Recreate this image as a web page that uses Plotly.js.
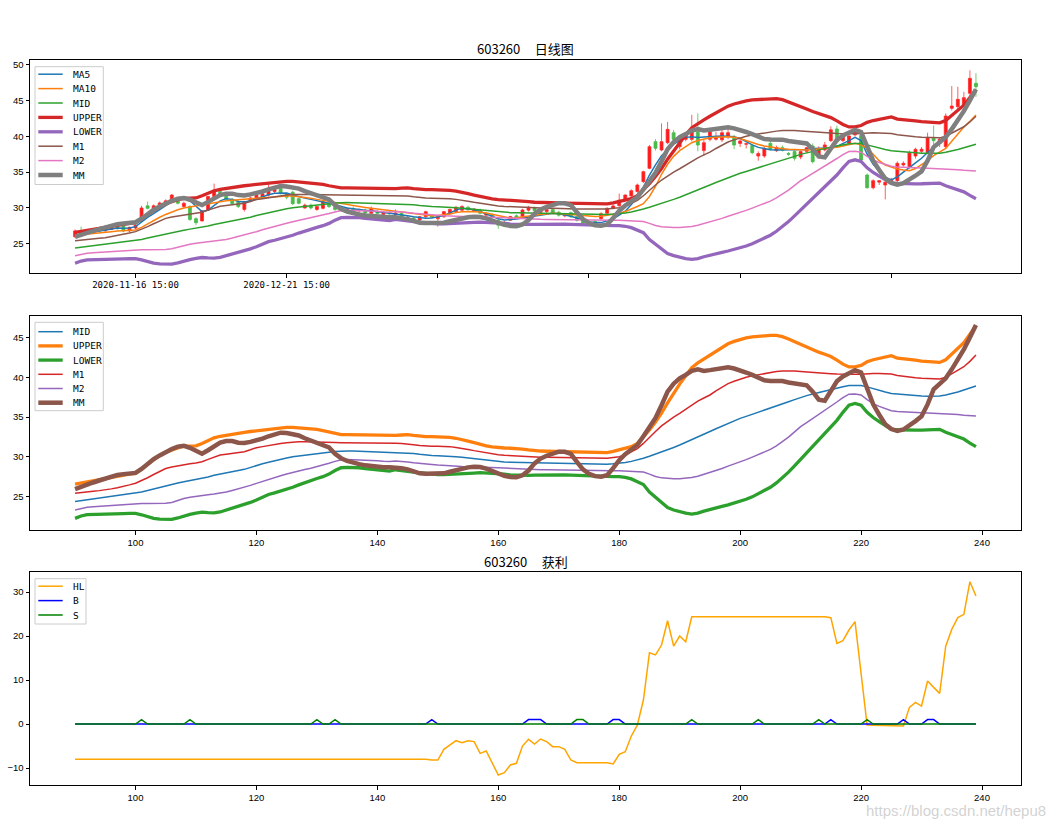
<!DOCTYPE html>
<html>
<head>
<meta charset="utf-8">
<script src="https://cdn.plot.ly/plotly-3.0.1.min.js"></script>
<style>html,body{margin:0;padding:0;background:#fff;}</style>
</head>
<body>
<div id="chart" style="width:1057px;height:825px;"></div>
<script>
// ---------- data (index 90 .. 239) ----------
const idx = [];
for (let i = 90; i <= 239; i++) idx.push(i);

const openP = [
26.0,26.8,26.4,26.5,27.0,26.8,27.0,27.4,27.6,26.8,
27.2,28.2,30.3,30.0,30.3,30.5,31.1,31.1,30.2,30.2,
28.5,28.2,29.7,31.6,32.3,31.7,31.2,30.9,29.8,31.0,
31.3,31.5,31.8,32.3,32.7,31.9,32.2,31.3,30.0,30.4,
29.8,29.95,30.6,30.1,29.9,29.6,29.9,29.6,29.7,29.25,
29.5,29.1,29.4,29.1,29.25,28.4,28.6,28.32,28.79,28.9,
28.5,28.79,29.2,29.48,29.7,30.1,29.6,29.7,29.0,29.1,
28.3,27.6,28.3,28.9,28.79,29.7,30.0,29.4,29.5,29.8,
29.4,28.9,29.35,28.8,28.5,27.7,28.1,28.5,29.25,29.95,
30.3,31.11,31.67,32.3,33.67,35.53,39.25,38.09,39.11,40.5,
38.55,39.57,39.57,40.64,38.0,39.57,39.6,39.5,40.0,39.72,
39.0,38.9,38.69,37.25,37.25,39.02,38.0,38.4,37.6,37.86,
37.1,37.9,38.65,37.2,38.1,39.39,41.02,39.4,39.02,40.2,
40.1,34.6,32.83,33.6,33.2,33.8,33.81,36.0,35.76,37.25,
37.9,37.72,39.71,39.0,38.55,43.9,44.13,44.36,45.99,47.39];
const highP = [
27.0,27.4,26.9,27.1,27.2,27.3,27.5,27.6,27.8,27.4,
27.8,30.3,30.9,30.5,30.9,31.2,31.95,31.5,30.9,30.4,
28.7,29.7,31.7,33.4,32.6,31.9,31.4,31.1,31.0,31.6,
31.9,32.2,33.3,32.9,32.9,32.1,32.4,31.4,30.6,30.6,
30.3,31.0,30.8,30.3,30.1,30.1,30.2,29.9,29.9,30.2,
29.7,29.5,29.6,29.8,29.4,28.9,28.8,28.9,29.6,29.1,
28.9,29.6,29.9,30.3,30.4,30.3,30.0,29.9,29.4,29.2,
28.5,28.2,28.9,29.1,29.9,30.3,30.2,29.9,30.0,30.0,
29.6,29.3,29.5,29.0,28.7,28.1,28.3,29.4,30.1,30.5,
32.0,31.9,32.6,33.4,35.2,38.8,39.6,41.8,42.0,40.9,
40.0,40.6,43.0,43.2,39.5,41.2,40.6,40.9,41.0,40.2,
39.6,39.1,38.9,37.9,38.6,39.4,38.7,38.7,37.8,38.1,
38.0,38.5,39.0,38.6,39.2,41.4,41.5,40.3,40.4,41.0,
40.3,34.8,34.0,33.9,33.7,34.2,36.5,36.5,38.0,38.4,
38.5,40.5,41.5,39.9,43.2,47.0,46.9,46.2,49.2,48.8];
const lowP = [
25.8,26.2,26.3,26.4,26.7,26.7,26.9,27.0,26.6,26.6,
27.0,28.0,29.8,29.8,30.1,30.4,31.0,30.5,30.0,28.2,
27.6,28.1,29.6,31.5,31.6,31.0,30.4,30.0,29.5,30.8,
31.1,31.3,31.6,32.1,31.9,31.2,30.4,30.5,29.9,29.8,
29.6,29.8,30.0,29.6,29.5,29.5,29.6,29.4,29.1,29.1,
29.1,29.0,29.0,28.9,28.4,28.2,28.2,28.2,28.6,28.6,
27.4,28.6,29.1,29.3,29.5,29.6,29.4,29.2,28.8,28.6,
27.1,27.4,28.2,28.5,28.6,29.5,29.4,29.2,29.3,29.2,
28.8,28.7,28.6,28.1,27.7,27.5,27.6,28.3,29.1,29.8,
30.2,31.0,31.5,32.1,33.5,35.4,38.0,37.9,38.9,39.3,
38.2,39.3,39.3,37.9,37.3,39.3,39.4,39.2,39.6,38.2,
38.5,38.3,37.5,36.6,37.0,38.0,37.8,37.9,37.3,36.6,
36.8,37.7,36.2,36.9,37.9,39.2,39.0,39.2,38.8,40.0,
36.5,32.7,32.6,33.2,31.2,33.4,33.6,35.8,35.5,36.9,
37.6,37.5,38.3,38.5,38.3,43.6,43.8,44.1,45.6,45.5];
const closeP = [
26.8,26.6,26.8,27.0,26.8,27.2,27.4,27.1,26.8,27.3,
27.6,30.0,29.95,30.3,30.7,31.0,31.8,30.65,30.65,28.4,
27.95,29.6,31.6,32.3,31.7,31.2,30.6,30.2,30.9,31.4,
31.8,32.0,32.5,32.6,32.0,31.5,30.6,30.65,30.4,30.0,
30.2,30.88,30.2,29.8,29.7,29.9,29.75,29.8,29.3,29.95,
29.25,29.35,29.2,29.3,28.55,28.7,28.3,28.79,29.49,28.7,
28.8,29.49,29.8,30.09,30.2,29.8,29.85,29.25,29.2,28.7,
27.6,28.0,28.8,28.6,29.72,30.1,29.6,29.7,29.8,29.35,
29.0,29.1,28.79,28.3,27.86,28.0,27.8,29.2,29.95,30.28,
31.1,31.81,32.41,33.2,35.06,38.55,38.32,39.25,40.97,39.57,
39.57,40.4,41.11,38.78,39.11,40.64,39.95,40.5,40.5,38.78,
39.35,38.95,37.71,37.6,38.25,38.18,38.4,38.05,37.5,36.92,
37.86,38.4,36.46,38.3,38.8,40.9,39.25,40.0,40.04,40.6,
36.7,32.83,33.81,33.81,33.6,34.0,36.23,36.23,37.72,38.18,
38.2,39.85,39.39,39.6,42.83,44.22,45.15,45.39,48.08,46.92];

const ma5 = [
26.2,26.35,26.5,26.65,26.85,27.0,27.15,27.2,27.18,27.2,
27.4,28.05,28.7,29.2,29.75,30.25,30.9,31.3,31.4,31.0,
30.2,29.5,29.7,30.4,31.0,31.3,31.2,30.9,30.85,31.0,
31.3,31.58,31.85,32.05,32.12,32.1,31.8,31.55,31.38,31.2,
31.05,30.85,30.65,30.45,30.2,30.0,29.9,29.75,29.68,29.6,
29.5,29.4,29.28,29.17,29.05,28.9,28.78,28.68,28.58,28.6,
28.75,28.95,29.3,29.7,29.95,29.9,29.75,29.5,29.15,28.8,
28.5,28.33,28.35,28.45,28.6,28.75,28.85,29.0,29.15,29.25,
29.2,29.05,28.85,28.6,28.3,28.05,27.96,27.96,28.2,28.5,
29.0,29.55,30.5,31.5,32.9,34.6,36.0,37.3,38.1,38.9,
39.4,39.85,39.95,39.82,39.9,39.97,40.0,40.04,40.0,39.95,
39.7,39.2,38.8,38.45,38.25,38.12,38.09,38.09,38.09,38.09,
38.09,38.15,38.28,38.32,38.32,38.35,38.6,38.95,39.4,39.86,
39.4,37.5,36.1,35.1,34.3,33.9,34.35,35.0,35.7,36.3,
36.93,37.7,38.6,39.3,40.1,41.2,42.5,43.8,45.0,46.2];
const ma10 = [
26.2,26.3,26.4,26.47,26.55,26.62,26.7,26.78,26.84,26.88,
26.93,27.3,27.8,28.2,28.7,29.1,29.45,29.75,30.0,30.15,
30.3,30.42,30.55,30.65,30.82,31.0,31.08,31.15,31.2,31.3,
31.4,31.49,31.56,31.62,31.67,31.68,31.67,31.6,31.5,31.37,
31.2,31.05,30.88,30.75,30.6,30.45,30.35,30.22,30.08,29.95,
29.83,29.72,29.6,29.5,29.42,29.33,29.22,29.1,28.97,28.93,
28.95,29.0,29.15,29.35,29.48,29.5,29.5,29.45,29.3,29.1,
28.9,28.72,28.6,28.65,28.8,28.9,29.0,29.1,29.2,29.25,
29.22,29.15,29.08,29.03,28.9,28.82,28.8,28.85,28.95,29.1,
29.25,29.5,29.8,30.2,30.6,31.6,33.0,34.7,36.1,37.2,
38.0,38.6,39.1,39.4,39.6,39.78,39.88,39.93,39.95,39.88,
39.7,39.4,39.1,38.85,38.65,38.5,38.35,38.25,38.18,38.13,
38.1,38.09,38.15,38.22,38.3,38.38,38.48,38.65,38.85,39.02,
38.8,38.3,37.5,36.6,36.0,35.7,35.45,35.3,35.2,35.5,
35.99,36.6,37.3,37.8,38.3,39.3,40.3,41.3,42.1,42.97];
const mid = [
24.43,24.53,24.63,24.73,24.83,24.93,25.03,25.13,25.23,25.33,
25.44,25.6,25.8,26.0,26.2,26.4,26.6,26.75,26.9,27.05,
27.17,27.3,27.5,27.7,27.87,28.0,28.15,28.3,28.45,28.7,
28.95,29.15,29.35,29.55,29.72,29.88,30.04,30.15,30.25,30.35,
30.46,30.53,30.6,30.68,30.74,30.76,30.74,30.72,30.68,30.65,
30.62,30.58,30.55,30.55,30.55,30.55,30.45,30.35,30.25,30.2,
30.17,30.15,30.1,30.03,29.96,29.88,29.78,29.68,29.58,29.5,
29.41,29.38,29.35,29.33,29.31,29.29,29.27,29.25,29.23,29.21,
29.2,29.18,29.15,29.12,29.1,29.08,29.07,29.08,29.1,29.15,
29.2,29.3,29.45,29.62,29.85,30.1,30.35,30.62,30.9,31.2,
31.5,31.82,32.15,32.5,32.85,33.2,33.55,33.9,34.2,34.55,
34.85,35.1,35.35,35.6,35.85,36.1,36.38,36.65,36.93,37.2,
37.48,37.7,37.9,38.1,38.3,38.49,38.65,38.82,38.97,39.0,
38.98,38.8,38.55,38.35,38.15,37.98,37.9,37.82,37.75,37.7,
37.65,37.63,37.63,37.65,37.78,37.95,38.15,38.4,38.65,38.9];
const upper = [
26.6,26.75,26.9,27.05,27.2,27.3,27.45,27.6,27.75,27.85,
27.95,28.5,29.1,29.7,30.2,30.6,30.9,31.15,31.35,31.4,
31.4,31.7,32.1,32.4,32.6,32.75,32.85,32.95,33.1,33.2,
33.3,33.4,33.5,33.6,33.68,33.72,33.72,33.65,33.6,33.55,
33.47,33.3,33.1,32.9,32.8,32.8,32.78,32.8,32.82,32.8,
32.8,32.78,32.75,32.71,32.76,32.8,32.7,32.6,32.55,32.55,
32.55,32.55,32.45,32.35,32.21,32.0,31.8,31.59,31.4,31.28,
31.17,31.13,31.1,31.08,31.0,30.9,30.8,30.75,30.72,30.7,
30.7,30.68,30.65,30.6,30.57,30.54,30.54,30.54,30.56,30.7,
30.87,31.05,31.3,31.71,32.5,33.4,34.4,35.5,36.8,38.0,
39.15,40.2,41.2,41.8,42.3,42.8,43.3,43.8,44.2,44.5,
44.76,44.95,45.08,45.15,45.22,45.26,45.25,45.1,44.8,44.45,
44.13,43.8,43.45,43.15,42.9,42.6,42.15,41.65,41.3,41.3,
41.5,41.95,42.2,42.38,42.55,42.71,42.4,42.35,42.3,42.15,
42.04,41.98,41.92,41.87,42.2,42.9,43.6,44.34,45.4,46.43];
const lower = [
22.3,22.6,22.76,22.8,22.82,22.84,22.86,22.88,22.9,22.92,
22.93,22.75,22.5,22.3,22.2,22.18,22.18,22.35,22.6,22.8,
22.97,23.09,23.03,23.0,23.1,23.33,23.55,23.75,24.0,24.3,
24.6,24.95,25.3,25.5,25.7,25.95,26.2,26.5,26.8,27.05,
27.3,27.53,27.85,28.3,28.65,28.7,28.7,28.65,28.55,28.45,
28.37,28.3,28.24,28.4,28.35,28.2,28.1,28.0,27.95,27.88,
27.8,27.78,27.8,27.83,27.86,27.92,27.98,28.03,28.0,27.97,
27.95,27.85,27.76,27.72,27.7,27.7,27.72,27.74,27.76,27.78,
27.78,27.76,27.72,27.68,27.63,27.6,27.57,27.55,27.54,27.53,
27.53,27.45,27.25,26.95,26.55,25.6,24.95,24.2,23.65,23.35,
23.14,22.95,22.84,22.95,23.2,23.43,23.6,23.8,24.0,24.2,
24.43,24.7,25.0,25.4,25.8,26.2,26.75,27.4,28.1,28.9,
29.7,30.5,31.3,32.1,32.9,33.7,34.6,35.6,36.5,36.72,
36.5,35.6,34.95,34.45,33.95,33.47,33.42,33.38,33.37,33.37,
33.38,33.4,33.43,33.47,33.1,32.8,32.55,32.25,31.75,31.29];
const m1 = [
25.44,25.5,25.6,25.7,25.78,25.86,26.0,26.15,26.3,26.5,
26.7,27.0,27.4,27.8,28.2,28.55,28.75,28.9,29.05,29.15,
29.25,29.4,29.7,30.0,30.25,30.35,30.45,30.55,30.67,30.9,
31.17,31.3,31.45,31.55,31.7,31.8,31.88,31.9,31.9,31.9,
31.88,31.86,31.84,31.82,31.8,31.8,31.78,31.78,31.77,31.76,
31.76,31.75,31.74,31.72,31.7,31.67,31.55,31.45,31.38,31.36,
31.35,31.34,31.3,31.2,31.12,30.95,30.8,30.65,30.5,30.38,
30.29,30.22,30.17,30.13,30.08,30.04,30.0,29.98,29.97,29.96,
29.96,29.94,29.9,29.87,29.85,29.83,29.83,29.83,29.85,29.95,
30.04,30.25,30.6,31.05,31.7,32.5,33.2,33.9,34.5,35.0,
35.47,36.0,36.5,37.0,37.4,37.78,38.3,38.8,39.2,39.5,
39.78,40.0,40.18,40.33,40.5,40.62,40.72,40.8,40.83,40.8,
40.74,40.7,40.65,40.6,40.52,40.45,40.4,40.36,40.35,40.37,
40.38,40.45,40.49,40.47,40.45,40.4,40.22,40.1,40.0,39.93,
39.87,39.83,39.8,39.78,40.0,40.45,40.9,41.33,42.0,42.8];
const m2 = [
23.35,23.55,23.68,23.75,23.8,23.85,23.92,24.0,24.07,24.13,
24.18,24.18,24.17,24.17,24.17,24.2,24.3,24.55,24.8,24.95,
25.08,25.19,25.27,25.35,25.44,25.6,25.8,26.0,26.19,26.44,
26.69,26.95,27.2,27.45,27.65,27.86,28.07,28.25,28.42,28.6,
28.78,29.0,29.22,29.45,29.65,29.7,29.68,29.64,29.6,29.57,
29.54,29.47,29.42,29.5,29.48,29.38,29.28,29.18,29.12,29.05,
28.98,28.92,28.87,28.83,28.8,28.79,28.78,28.77,28.73,28.7,
28.66,28.62,28.57,28.52,28.48,28.45,28.43,28.41,28.4,28.38,
28.37,28.36,28.34,28.32,28.31,28.3,28.29,28.29,28.28,28.28,
28.28,28.26,28.22,28.17,28.11,27.85,27.55,27.38,27.28,27.26,
27.28,27.33,27.42,27.58,27.8,28.03,28.3,28.55,28.85,29.1,
29.37,29.67,29.98,30.3,30.62,30.96,31.4,31.9,32.5,33.15,
33.8,34.3,34.8,35.3,35.8,36.31,36.9,37.45,37.88,37.9,
37.78,37.2,36.7,36.35,36.05,35.81,35.72,35.66,35.62,35.59,
35.56,35.53,35.5,35.48,35.44,35.4,35.33,35.25,35.18,35.14];
const mm = [
25.98,26.3,26.55,26.8,27.05,27.3,27.55,27.75,27.85,27.9,
28.0,28.5,29.2,29.75,30.2,30.65,31.0,31.3,31.4,31.15,
30.7,30.4,30.85,31.4,31.8,32.0,32.0,31.8,31.75,31.9,
32.05,32.3,32.6,32.9,33.05,33.0,32.85,32.7,32.35,32.05,
31.8,31.6,31.2,30.4,29.85,29.5,29.25,29.1,28.95,28.85,
28.78,28.72,28.7,28.7,28.6,28.45,28.2,27.95,27.9,27.88,
27.87,27.95,28.15,28.35,28.57,28.7,28.78,28.75,28.55,28.25,
27.9,27.65,27.5,27.45,27.7,28.3,29.2,29.8,30.16,30.45,
30.67,30.65,30.4,29.4,28.45,27.9,27.6,27.53,27.7,28.6,
29.6,30.35,30.9,31.5,32.6,33.7,34.9,36.5,38.2,39.2,
39.87,40.3,40.8,41.0,40.8,40.9,41.0,41.15,41.25,41.1,
40.91,40.6,40.3,39.9,39.62,39.55,39.55,39.53,39.35,39.2,
39.05,39.0,38.2,37.2,37.06,38.4,39.5,40.1,40.55,40.9,
40.6,38.7,36.6,35.3,34.1,33.5,33.26,33.45,33.9,34.5,
35.1,36.6,38.49,39.2,39.87,41.0,42.17,43.5,45.0,46.56];

const hl = [
-8.0,-8.0,-8.0,-8.0,-8.0,-8.0,-8.0,-8.0,-8.0,-8.0,
-8.0,-8.0,-8.0,-8.0,-8.0,-8.0,-8.0,-8.0,-8.0,-8.0,
-8.0,-8.0,-8.0,-8.0,-8.0,-8.0,-8.0,-8.0,-8.0,-8.0,
-8.0,-8.0,-8.0,-8.0,-8.0,-8.0,-8.0,-8.0,-8.0,-8.0,
-8.0,-8.0,-8.0,-8.0,-8.0,-8.0,-8.0,-8.0,-8.0,-8.0,
-8.0,-8.0,-8.0,-8.0,-8.0,-8.0,-8.0,-8.0,-8.0,-8.2,
-8.2,-5.76,-4.77,-3.79,-4.24,-3.79,-4.0,-6.67,-6.14,-8.9,
-11.59,-11.06,-9.3,-8.94,-5.0,-3.48,-4.55,-3.41,-4.0,-5.15,
-5.15,-5.76,-8.18,-8.79,-8.79,-8.79,-8.79,-8.79,-8.79,-9.09,
-6.89,-6.29,-2.73,-0.23,5.45,16.2,15.7,17.95,23.48,17.7,
20.0,18.7,24.39,24.39,24.39,24.39,24.39,24.39,24.39,24.39,
24.39,24.39,24.39,24.39,24.39,24.39,24.39,24.39,24.39,24.39,
24.39,24.39,24.39,24.39,24.39,24.17,18.33,18.94,21.36,23.26,
11.5,-0.23,-0.3,-0.3,-0.3,-0.3,-0.3,-0.45,3.79,4.92,
4.09,9.77,8.33,6.97,17.7,21.5,24.17,24.92,32.35,29.1];
const bSig = [
0,0,0,0,0,0,0,0,0,0,
0,0,0,0,0,0,0,0,0,0,
0,0,0,0,0,0,0,0,0,0,
0,0,0,0,0,0,0,0,0,0,
0,0,0,0,0,0,0,0,0,0,
0,0,0,0,0,0,0,0,0,1,
0,0,0,0,0,0,0,0,0,0,
0,0,0,0,0,1,1,1,0,0,
0,0,0,0,0,0,0,0,0,1,
1,0,0,0,0,0,0,0,0,0,
0,0,0,0,0,0,0,0,0,0,
0,0,0,0,0,0,0,0,0,0,
0,0,0,0,0,1,0,0,0,0,
0,0,0,0,0,0,0,1,0,0,
0,1,1,0,0,0,0,0,0,0];
const sSig = [
0,0,0,0,0,0,0,0,0,0,
0,1,0,0,0,0,0,0,0,1,
0,0,0,0,0,0,0,0,0,0,
0,0,0,0,0,0,0,0,0,0,
1,0,0,1,0,0,0,0,0,0,
0,0,0,0,0,0,0,0,0,0,
0,0,0,0,0,0,0,0,0,0,
0,0,0,0,0,0,0,0,0,0,
0,0,0,1,1,0,0,0,0,0,
0,0,0,0,0,0,0,0,0,0,
0,0,1,0,0,0,0,0,0,0,
0,0,0,1,0,0,0,0,0,0,
0,0,0,1,0,0,0,0,0,0,
0,1,0,0,0,0,0,0,0,0,
0,0,0,0,0,0,0,0,0,0];

const xTicks1 = [100, 125, 150, 175, 200, 225];
const xTickText1 = ['2020-11-16 15:00', '2020-12-21 15:00', '', '', '', ''];
const xTicks2 = [100, 120, 140, 160, 180, 200, 220, 240];
const yTicks1 = [25, 30, 35, 40, 45, 50];
const yTicks2 = [25, 30, 35, 40, 45];
const yTicks3 = [-10, 0, 10, 20, 30];

// ---------- styles ----------
const C = {blue:'#1f77b4', orange:'#ff7f0e', green:'#2ca02c', red:'#d62728',
           purple:'#9467bd', brown:'#8c564b', pink:'#e377c2', gray:'#7f7f7f'};
const THIN = 1.5, THICK = 3.3, MMW = 4.5;

const panel1 = [
  {name:'MA5', y:ma5, color:C.blue, w:THIN},
  {name:'MA10', y:ma10, color:C.orange, w:THIN},
  {name:'MID', y:mid, color:C.green, w:THIN},
  {name:'UPPER', y:upper, color:C.red, w:THICK},
  {name:'LOWER', y:lower, color:C.purple, w:THICK},
  {name:'M1', y:m1, color:C.brown, w:THIN},
  {name:'M2', y:m2, color:C.pink, w:THIN},
  {name:'MM', y:mm, color:C.gray, w:MMW}
];
const panel2 = [
  {name:'MID', y:mid, color:C.blue, w:THIN},
  {name:'UPPER', y:upper, color:C.orange, w:THICK},
  {name:'LOWER', y:lower, color:C.green, w:THICK},
  {name:'M1', y:m1, color:C.red, w:THIN},
  {name:'M2', y:m2, color:C.purple, w:THIN},
  {name:'MM', y:mm, color:C.brown, w:MMW}
];
const panel3 = [
  {name:'HL', y:hl, color:'#ffa500', w:THIN},
  {name:'B', y:bSig, color:'#0000ff', w:THIN},
  {name:'S', y:sSig, color:'#008000', w:THIN}
];

const traces = [];
traces.push({
  type:'candlestick', x:idx, open:openP, high:highP, low:lowP, close:closeP,
  xaxis:'x', yaxis:'y', showlegend:false, hoverinfo:'skip', whiskerwidth:0,
  increasing:{line:{color:'rgba(255,40,40,0.75)', width:1}, fillcolor:'#ff1a1a'},
  decreasing:{line:{color:'rgba(70,185,70,0.75)', width:1}, fillcolor:'#4cbb4c'}
});
function addLines(list, xa, ya) {
  list.forEach(s => traces.push({
    type:'scatter', mode:'lines', x:idx, y:s.y, name:s.name, xaxis:xa, yaxis:ya,
    line:{color:s.color, width:s.w}, showlegend:false, hoverinfo:'skip'
  }));
}
addLines(panel1, 'x', 'y');
addLines(panel2, 'x2', 'y2');
addLines(panel3, 'x3', 'y3');

// ---------- layout geometry (pixels) ----------
const W = 1057, H = 825, L = 30, R = 1021, T = 60, B = 785;
const px = v => (v - L) / (R - L);
const py = v => (B - v) / (B - T);

const shapes = [], annotations = [];
const monoFont = 'DejaVu Sans Mono, monospace';
function legendBox(list, box, firstY, step) {
  shapes.push({type:'rect', xref:'paper', yref:'paper',
    x0:px(box[0]), x1:px(box[1]), y0:py(box[3]), y1:py(box[2]),
    line:{color:'#cccccc', width:1}, fillcolor:'rgba(255,255,255,0.85)', layer:'above'});
  list.forEach((s, k) => {
    const yy = firstY + k * step;
    shapes.push({type:'line', xref:'paper', yref:'paper',
      x0:px(38.3), x1:px(62.7), y0:py(yy), y1:py(yy),
      line:{color:s.color, width:s.w}, layer:'above'});
    annotations.push({xref:'paper', yref:'paper', x:px(70.5), y:py(yy),
      xanchor:'left', yanchor:'middle', text:s.name, showarrow:false,
      font:{family:monoFont, size:9.5, color:'#000'}});
  });
}
legendBox(panel1, [35, 103.3, 66.7, 184.5], 74.2, 14.4);
legendBox(panel2, [35, 103.3, 322.3, 410.7], 331.7, 14.2);
legendBox(panel3, [35, 86, 578.7, 624], 586.2, 14.4);

const cjk = 'Noto Sans CJK SC, sans-serif';
const gap = '\u00a0\u00a0\u00a0\u00a0\u00a0';
annotations.push({xref:'paper', yref:'paper', x:0.5, y:py(49), xanchor:'center', yanchor:'middle',
  text:'603260' + gap + '日线图', showarrow:false, font:{family:cjk, size:13, color:'#000'}});
annotations.push({xref:'paper', yref:'paper', x:0.5, y:py(561), xanchor:'center', yanchor:'middle',
  text:'603260' + gap + '获利', showarrow:false, font:{family:cjk, size:13, color:'#000'}});
annotations.push({xref:'paper', yref:'paper', x:px(1048), y:py(810), xanchor:'right', yanchor:'middle',
  text:'https://blog.csdn.net/hepu8', showarrow:false,
  font:{family:'Liberation Sans, sans-serif', size:15, color:'rgba(190,190,190,0.7)'}});

const numFont = {family:'Liberation Sans, Arial, sans-serif', size:9.5, color:'#000'};
function axis(extra) {
  return Object.assign({
    showline:true, linecolor:'#000', linewidth:1, mirror:true,
    ticks:'outside', ticklen:3.5, tickcolor:'#000', tickwidth:1,
    showgrid:false, zeroline:false, tickfont:numFont, fixedrange:true, tickmode:'array'
  }, extra);
}
const xr = [82.55, 246.45];
const layout = {
  width:W, height:H, paper_bgcolor:'#fff', plot_bgcolor:'#fff',
  margin:{l:L, r:W - R, t:T, b:H - B, pad:0},
  showlegend:false, hovermode:false,
  xaxis: axis({domain:[0,1], anchor:'y', range:xr, tickvals:xTicks1, ticktext:xTickText1,
                rangeslider:{visible:false}, tickfont:{family:monoFont, size:9, color:'#000'}}),
  yaxis: axis({domain:[py(273), 1], anchor:'x', range:[20.93, 50.64], tickvals:yTicks1}),
  xaxis2: axis({domain:[0,1], anchor:'y2', range:xr, tickvals:xTicks2}),
  yaxis2: axis({domain:[py(530), py(316)], anchor:'x2', range:[20.84, 47.69], tickvals:yTicks2}),
  xaxis3: axis({domain:[0,1], anchor:'y3', range:xr, tickvals:xTicks2}),
  yaxis3: axis({domain:[0, py(572)], anchor:'x3', range:[-13.86, 34.55], tickvals:yTicks3}),
  shapes:shapes, annotations:annotations
};

Plotly.newPlot('chart', traces, layout, {staticPlot:true, displayModeBar:false});
</script>
</body>
</html>
